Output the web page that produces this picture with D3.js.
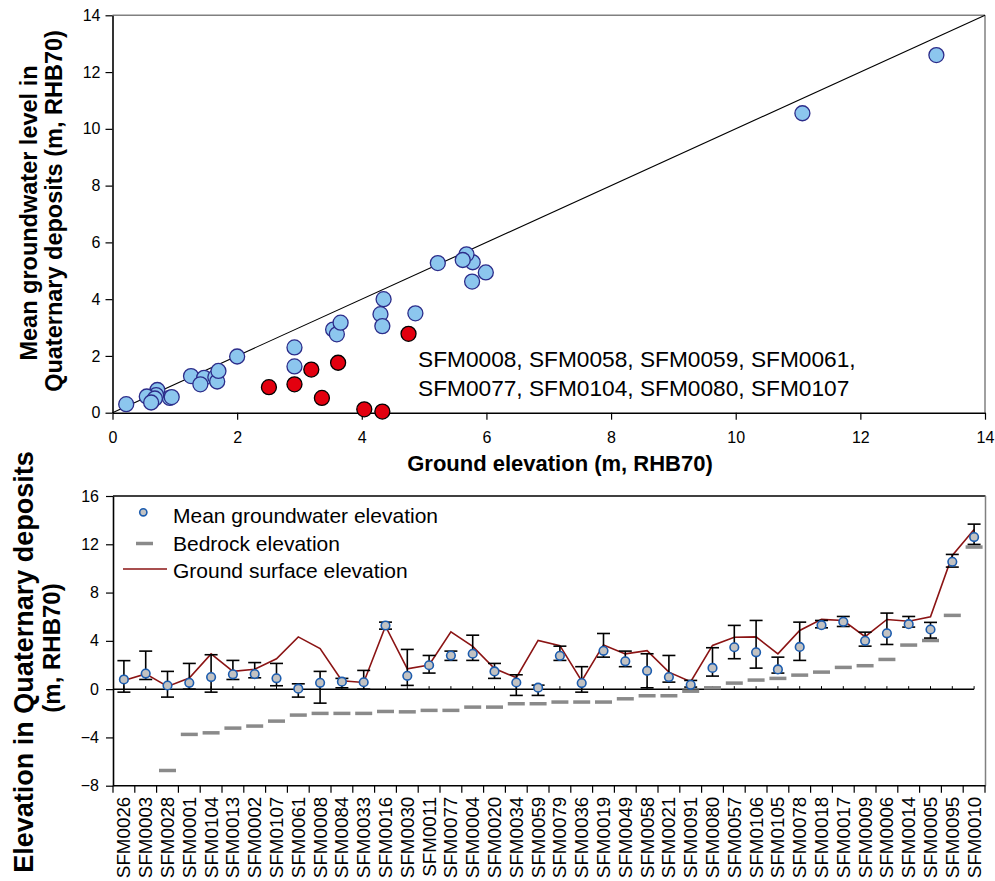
<!DOCTYPE html>
<html>
<head>
<meta charset="utf-8">
<script src="https://cdn.jsdelivr.net/npm/d3@7"></script>
<style>
  html, body { margin: 0; padding: 0; background: #fff; }
  svg { display: block; font-family: "Liberation Sans", Arial, sans-serif; }
</style>
</head>
<body>
<svg id="chart" width="995" height="881"></svg>
<script>
// Monitoring wells, ordered by bedrock elevation
const stations = ["SFM0026","SFM0003","SFM0028","SFM0001","SFM0104","SFM0013","SFM0002","SFM0107",
  "SFM0061","SFM0008","SFM0084","SFM0033","SFM0016","SFM0030","SFM0011","SFM0077","SFM0004","SFM0020",
  "SFM0034","SFM0059","SFM0079","SFM0036","SFM0019","SFM0049","SFM0058","SFM0021","SFM0091","SFM0080",
  "SFM0057","SFM0106","SFM0105","SFM0078","SFM0018","SFM0017","SFM0009","SFM0006","SFM0014","SFM0005",
  "SFM0095","SFM0010"];

// Ground surface elevation (m, RHB70)
const groundElev = [0.72,1.26,0.22,0.92,2.92,1.47,1.65,2.51,4.33,3.36,0.70,0.55,5.22,1.68,2.00,4.75,3.54,1.70,
  0.95,4.04,3.60,0.68,3.66,2.92,3.19,1.41,0.62,3.62,4.30,4.33,2.92,4.86,5.78,5.68,4.35,5.77,5.62,5.99,11.07,13.22];

// Mean groundwater elevation in Quaternary deposits (m, RHB70)
const meanGW = [0.80,1.29,0.30,0.52,1.00,1.23,1.25,0.90,0.04,0.52,0.62,0.57,5.27,1.10,1.98,2.78,2.93,1.47,
  0.55,0.12,2.76,0.50,3.17,2.30,1.52,1.00,0.36,1.76,3.47,3.05,1.63,3.50,5.30,5.58,4.00,4.62,5.38,4.94,10.55,12.60];

// Observed maximum and minimum groundwater elevation
const maxGW = [2.36,3.15,1.47,2.13,2.85,2.38,2.20,2.13,0.44,1.47,0.89,1.55,5.55,3.29,2.79,3.15,4.47,2.13,
  1.19,0.33,3.56,1.86,4.61,3.15,2.93,2.79,0.72,3.43,5.28,5.69,2.65,5.55,5.69,6.02,4.72,6.30,6.02,5.53,11.16,13.67];
const minGW = [-0.25,0.80,-0.66,0.00,-0.25,0.80,0.94,0.28,-0.66,-1.16,0.11,0.00,4.97,0.31,1.33,2.38,2.38,0.89,
  -0.52,-0.52,2.38,-0.25,2.65,1.86,0.11,0.58,0.17,1.08,2.52,1.74,1.33,2.38,5.08,5.19,3.56,3.70,5.14,4.23,10.11,11.99];

// Bedrock elevation (null where not reached)
const bedrock = [null,null,-6.74,-3.75,-3.62,-3.23,-3.06,-2.65,-2.15,-2.01,-2.01,-2.01,-1.85,-1.88,-1.76,-1.76,
  -1.49,-1.49,-1.21,-1.21,-1.07,-1.07,-1.07,-0.80,-0.55,-0.55,-0.17,0.11,0.50,0.75,0.89,1.16,1.41,1.80,1.94,
  2.46,3.65,4.03,6.11,11.77];

// Wells whose mean level lies well below the ground surface
const deviatingStations = ["SFM0008","SFM0058","SFM0059","SFM0061","SFM0077","SFM0104","SFM0080","SFM0107"];
const deviatingLines = ["SFM0008, SFM0058, SFM0059, SFM0061,", "SFM0077, SFM0104, SFM0080, SFM0107"];

const scatterTicks = [0,2,4,6,8,10,12,14];
const profileTicks = [-8,-4,0,4,8,12,16];

const legendLabels = ["Mean groundwater elevation","Bedrock elevation","Ground surface elevation"];

const svg = d3.select("#chart");
const FONT = '"Liberation Sans", Arial, sans-serif';

/* ---------- Upper panel: ground elevation vs mean groundwater level ---------- */
const sx = d3.scaleLinear().domain([0,14]).range([112.5,985]);
const sy = d3.scaleLinear().domain([0,14]).range([412.7,15.3]);

const gTop = svg.append("g");

// frame (grey top/right)
gTop.append("line").attr("x1",sx(0)).attr("x2",sx(14)).attr("y1",sy(14)).attr("y2",sy(14))
  .attr("stroke","#808080").attr("stroke-width",1.5);
gTop.append("line").attr("x1",sx(14)).attr("x2",sx(14)).attr("y1",sy(14)).attr("y2",sy(0))
  .attr("stroke","#808080").attr("stroke-width",1.5);

// 1:1 line
gTop.append("line").attr("x1",sx(0)).attr("y1",sy(0)).attr("x2",sx(14)).attr("y2",sy(14))
  .attr("stroke","#000").attr("stroke-width",1.1);

const axX = gTop.append("g").attr("transform",`translate(0,${sy(0)})`)
  .call(d3.axisBottom(sx).tickValues(scatterTicks).tickSize(7).tickSizeOuter(0).tickPadding(12));
const axY = gTop.append("g").attr("transform",`translate(${sx(0)},0)`)
  .call(d3.axisLeft(sy).tickValues(scatterTicks).tickSize(7).tickSizeOuter(0).tickPadding(5));
[axX, axY].forEach(a => {
  a.select(".domain").attr("stroke","#000").attr("stroke-width",1.6);
  a.selectAll(".tick line").attr("stroke","#000").attr("stroke-width",1.2);
  a.selectAll(".tick text").attr("font-family",FONT).attr("font-size",16).attr("fill","#000");
});

const pts = stations.map((s,i) => ({s, g: groundElev[i], m: meanGW[i], dev: deviatingStations.includes(s)}));
gTop.append("g").selectAll("circle").data(pts.filter(d => !d.dev)).join("circle")
  .attr("cx",d => sx(d.g)).attr("cy",d => sy(d.m)).attr("r",7.5)
  .attr("fill","#8cc6ee").attr("stroke","#2c2c8a").attr("stroke-width",1.3);
gTop.append("g").selectAll("circle").data(pts.filter(d => d.dev)).join("circle")
  .attr("cx",d => sx(d.g)).attr("cy",d => sy(d.m)).attr("r",7.5)
  .attr("fill","#e3000f").attr("stroke","#000").attr("stroke-width",1.3);

gTop.append("text").attr("x",418).attr("y",367).attr("font-family",FONT).attr("font-size",22.7)
  .selectAll("tspan").data(deviatingLines).join("tspan")
  .attr("x",418).attr("dy",(d,i) => i ? 29 : 0).text(d => d);

gTop.append("text").attr("x",560).attr("y",471).attr("text-anchor","middle")
  .attr("font-family",FONT).attr("font-weight","bold").attr("font-size",22)
  .text("Ground elevation (m, RHB70)");

gTop.append("text").attr("transform","translate(37,213) rotate(-90)").attr("text-anchor","middle")
  .attr("font-family",FONT).attr("font-weight","bold").attr("font-size",23.5)
  .text("Mean groundwater level in");
gTop.append("text").attr("transform","translate(62,211) rotate(-90)").attr("text-anchor","middle")
  .attr("font-family",FONT).attr("font-weight","bold").attr("font-size",23.5)
  .text("Quaternary deposits (m, RHB70)");

/* ---------- Lower panel: elevation profile per well ---------- */
const bx = d3.scaleBand().domain(stations).range([113,985]).paddingInner(0).paddingOuter(0);
const by = d3.scaleLinear().domain([-8,16]).range([785.7,496]);
const cx = s => bx(s) + bx.bandwidth()/2;

const gBot = svg.append("g");

gBot.append("line").attr("x1",113).attr("x2",985.5).attr("y1",by(16)).attr("y2",by(16))
  .attr("stroke","#000").attr("stroke-width",1.5);
gBot.append("line").attr("x1",985.5).attr("x2",985.5).attr("y1",by(16)).attr("y2",by(-8))
  .attr("stroke","#808080").attr("stroke-width",1.5);

// zero reference line with ticks at each well
const zeroAxis = gBot.append("g").attr("transform",`translate(0,${by(0)})`);
zeroAxis.append("line").attr("x1",113).attr("x2",cx(stations[stations.length-1]))
  .attr("stroke","#000").attr("stroke-width",1.5);
zeroAxis.selectAll("line.zt").data(stations).join("line").attr("class","zt")
  .attr("x1",d => cx(d)).attr("x2",d => cx(d)).attr("y1",-3).attr("y2",0)
  .attr("stroke","#000").attr("stroke-width",1);

// category axis with ticks at band edges
const bAxX = gBot.append("g").attr("transform",`translate(0,${by(-8)})`);
bAxX.append("line").attr("x1",113).attr("x2",985.5).attr("stroke","#000").attr("stroke-width",1.6);
const edges = stations.map(s => bx(s)).concat([bx(stations[stations.length-1]) + bx.bandwidth()]);
bAxX.selectAll("line.et").data(edges).join("line").attr("class","et")
  .attr("x1",d => d).attr("x2",d => d).attr("y1",0).attr("y2",7).attr("stroke","#000").attr("stroke-width",1.2);
gBot.append("g").selectAll("text").data(stations).join("text")
  .attr("transform",d => `translate(${cx(d)},${by(-8)+11}) rotate(-90)`)
  .attr("text-anchor","end").attr("dy","0.35em")
  .attr("font-family",FONT).attr("font-size",18.8).text(d => d);

const bAxY = gBot.append("g").attr("transform","translate(113,0)")
  .call(d3.axisLeft(by).tickValues(profileTicks).tickSize(7).tickSizeOuter(0).tickPadding(7));
bAxY.select(".domain").attr("stroke","#000").attr("stroke-width",1.6);
bAxY.selectAll(".tick line").attr("stroke","#000").attr("stroke-width",1.2);
bAxY.selectAll(".tick text").attr("font-family",FONT).attr("font-size",16).attr("fill","#000");

// bedrock dashes
gBot.append("g").selectAll("line").data(stations.map((s,i) => ({s, v: bedrock[i]})).filter(d => d.v !== null))
  .join("line")
  .attr("x1",d => cx(d.s) - 8.5).attr("x2",d => cx(d.s) + 8.5)
  .attr("y1",d => by(d.v)).attr("y2",d => by(d.v))
  .attr("stroke","#8a8a8a").attr("stroke-width",3.5);

// ground surface line
gBot.append("path").datum(stations.map((s,i) => [cx(s), by(groundElev[i])]))
  .attr("d",d3.line()).attr("fill","none").attr("stroke","#8b1414").attr("stroke-width",1.6);

// min–max range bars
const bars = gBot.append("g").attr("stroke","#000").attr("stroke-width",1.6);
stations.forEach((s,i) => {
  const x = cx(s);
  bars.append("line").attr("x1",x).attr("x2",x).attr("y1",by(minGW[i])).attr("y2",by(maxGW[i]));
  bars.append("line").attr("x1",x-6.5).attr("x2",x+6.5).attr("y1",by(maxGW[i])).attr("y2",by(maxGW[i]));
  bars.append("line").attr("x1",x-6.5).attr("x2",x+6.5).attr("y1",by(minGW[i])).attr("y2",by(minGW[i]));
});

// mean groundwater markers
gBot.append("g").selectAll("circle").data(stations.map((s,i) => ({s, v: meanGW[i]}))).join("circle")
  .attr("cx",d => cx(d.s)).attr("cy",d => by(d.v)).attr("r",4.3)
  .attr("fill","#c2c2c2").attr("stroke","#1c5cae").attr("stroke-width",1.6);

// legend
const lg = gBot.append("g");
lg.append("circle").attr("cx",143.3).attr("cy",512.3).attr("r",3.6)
  .attr("fill","#c2c2c2").attr("stroke","#1c5cae").attr("stroke-width",1.6);
lg.append("line").attr("x1",136).attr("x2",153).attr("y1",543.5).attr("y2",543.5)
  .attr("stroke","#8a8a8a").attr("stroke-width",3.5);
lg.append("line").attr("x1",123).attr("x2",167).attr("y1",569).attr("y2",569)
  .attr("stroke","#8b1414").attr("stroke-width",1.6);
lg.selectAll("text").data(legendLabels).join("text")
  .attr("x",173).attr("y",(d,i) => 523 + i*27.5)
  .attr("font-family",FONT).attr("font-size",21).text(d => d);

gBot.append("text").attr("transform","translate(33,662) rotate(-90)").attr("text-anchor","middle")
  .attr("font-family",FONT).attr("font-weight","bold").attr("font-size",27)
  .text("Elevation in Quaternary deposits");
gBot.append("text").attr("transform","translate(60,648) rotate(-90)").attr("text-anchor","middle")
  .attr("font-family",FONT).attr("font-weight","bold").attr("font-size",24)
  .text("(m, RHB70)");
</script>
</body>
</html>
